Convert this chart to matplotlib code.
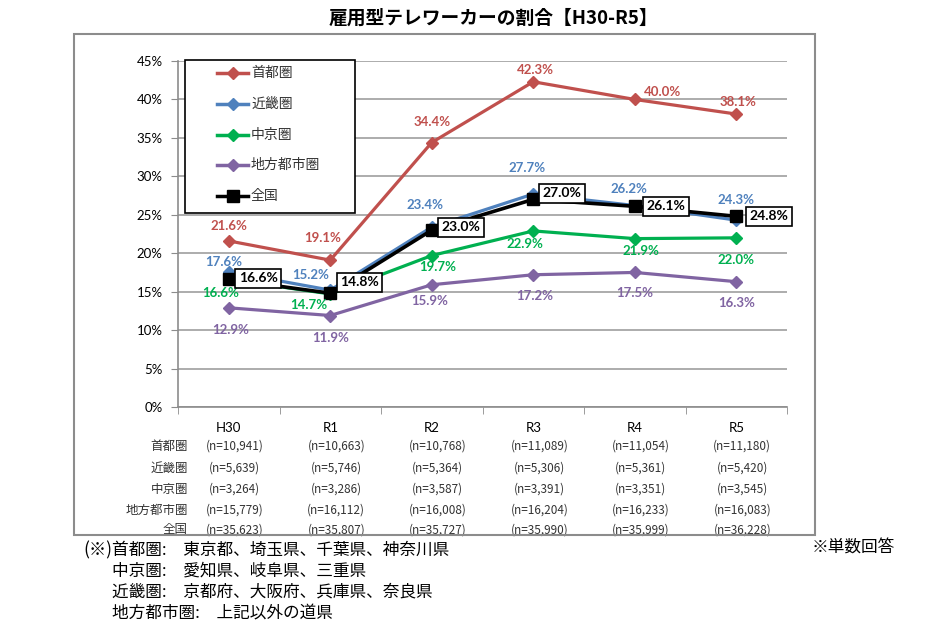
import matplotlib.pyplot as plt
from matplotlib.lines import Line2D
from matplotlib.patches import Rectangle
from matplotlib import transforms

plt.rcParams['font.family'] = ['Noto Sans CJK JP', 'DejaVu Sans']

W, H = 938, 629

# --- data ---
years = ["H30", "R1", "R2", "R3", "R4", "R5"]
shutoken = [21.6, 19.1, 34.4, 42.3, 40.0, 38.1]
kinki = [17.6, 15.2, 23.4, 27.7, 26.2, 24.3]
chukyo = [16.6, 14.7, 19.7, 22.9, 21.9, 22.0]
chiho = [12.9, 11.9, 15.9, 17.2, 17.5, 16.3]
zenkoku = [16.6, 14.8, 23.0, 27.0, 26.1, 24.8]

n_shutoken = ["10,941", "10,663", "10,768", "11,089", "11,054", "11,180"]
n_kinki = ["5,639", "5,746", "5,364", "5,306", "5,361", "5,420"]
n_chukyo = ["3,264", "3,286", "3,587", "3,391", "3,351", "3,545"]
n_chiho = ["15,779", "16,112", "16,008", "16,204", "16,233", "16,083"]
n_zenkoku = ["35,623", "35,807", "35,727", "35,990", "35,999", "36,228"]

names = ["首都圏", "近畿圏", "中京圏", "地方都市圏", "全国"]

# --- styles ---
colors = ["#C0504D", "#4F81BD", "#00B050", "#8064A2", "#000000"]
# label offsets in pixels (dx, dy), y up
offs = {
    "首都圏": [(0, 15), (-8, 22), (0, 21), (2, 12), (28, 7), (2, 12)],
    "近畿圏": [(-5, 10), (-20, 15), (-7, 22), (-6, 26), (-6, 17), (0, 20)],
    "中京圏": [(-8, -14), (-22, -11), (6, -11), (-8, -13), (6, -12), (0, -22)],
    "地方都市圏": [(2, -22), (0, -22), (-2, -16), (1, -21), (0, -21), (0, -21)],
    "全国": [(10, 1), (10, 11), (10, 3), (9, 6), (12, 0), (13, 0)],
}


def fx(px):
    return px / W


def fy(py):
    return 1 - py / H


fig = plt.figure(figsize=(W / 100, H / 100), dpi=100)
fig.add_artist(Rectangle((fx(74), fy(535)), fx(815) - fx(74), fy(34) - fy(535),
                         transform=fig.transFigure, fill=False,
                         ec="#8C8C8C", lw=1.5))
fig.text(fx(493), fy(18), "雇用型テレワーカーの割合【H30-R5】",
         ha="center", va="center", fontsize=13.5, fontweight="bold")

ax = fig.add_axes([fx(178), fy(407), fx(787) - fx(178), fy(61) - fy(407)])
x = list(range(len(years)))
series = [shutoken, kinki, chukyo, chiho, zenkoku]
for name, vals, c in zip(names, series, colors):
    if name == "全国":
        ax.plot(x, vals, color=c, lw=2.6, marker="s", ms=8, zorder=5)
    else:
        ax.plot(x, vals, color=c, lw=2.3, marker="D", ms=6, zorder=3)
    for i, v in enumerate(vals):
        dx, dy = offs[name][i]
        if name == "全国":
            ax.annotate(f"{v:.1f}%", (i, v), xytext=(dx, dy),
                        textcoords="offset pixels", ha="left", va="center",
                        fontsize=10, fontweight="bold", family="Lato",
                        color="black", zorder=7,
                        bbox=dict(boxstyle="square,pad=0.25", fc="white",
                                  ec="black", lw=1.2))
        else:
            ax.annotate(f"{v:.1f}%", (i, v), xytext=(dx, dy),
                        textcoords="offset pixels", ha="center", va="center",
                        fontsize=9.5, fontweight="bold", family="Lato",
                        color=c, zorder=6)

ax.set_xlim(-0.5, 5.5)
ax.set_ylim(0, 45)
ax.set_yticks(range(0, 46, 5))
ax.set_yticklabels([f"{v}%" for v in range(0, 46, 5)], family="Lato", fontsize=9.5)
ax.set_xticks(x)
ax.set_xticklabels(years, family="Lato", fontsize=9.5)
ax.set_xticks([i + 0.5 for i in range(-1, 6)], minor=True)
ax.tick_params(axis="x", which="major", length=0, pad=11)
ax.tick_params(axis="x", which="minor", length=5, color="#8C8C8C")
ax.tick_params(axis="y", length=5, color="#8C8C8C", pad=6)
ax.yaxis.grid(True, color="#A6A6A6", lw=1.3)
ax.set_axisbelow(True)
for s in ["top", "right"]:
    ax.spines[s].set_visible(False)
for s in ["left", "bottom"]:
    ax.spines[s].set_color("#8C8C8C")
    ax.spines[s].set_linewidth(1.2)

# legend box
fig.add_artist(Rectangle((fx(185), fy(213)), fx(355) - fx(185), fy(60) - fy(213),
                         transform=fig.transFigure, fc="white", ec="black",
                         lw=1.2, zorder=8))
for k, (name, c) in enumerate(zip(names, colors)):
    yy = fy(73 + k * 30.8)
    mk = "s" if name == "全国" else "D"
    ms = 8 if name == "全国" else 6
    fig.add_artist(Line2D([fx(217), fx(248)], [yy, yy], color=c, lw=2.5,
                          transform=fig.transFigure, zorder=9))
    fig.add_artist(Line2D([fx(232.5)], [yy], color=c, marker=mk, ms=ms,
                          transform=fig.transFigure, zorder=9))
    fig.text(fx(251), yy, name, ha="left", va="center", fontsize=10,
             color="#333333", zorder=9)

# sample size table
blend = transforms.blended_transform_factory(ax.transData, fig.transFigure)
n_rows = [n_shutoken, n_kinki, n_chukyo, n_chiho, n_zenkoku]
row_y = [446, 468, 489, 510, 530]
for name, ns, yy in zip(names, n_rows, row_y):
    fig.text(fx(188), fy(yy), name, ha="right", va="center", fontsize=9,
             color="#333333")
    for i, n in enumerate(ns):
        ax.text(i + 0.06, fy(yy), f"(n={n})", transform=blend,
                ha="center", va="center", fontsize=8.5, color="#333333",
                clip_on=False)

# footnotes
fig.text(fx(112), fy(550), "(※)", ha="right", va="center", fontsize=12.5)
notes = ["首都圏:　東京都、埼玉県、千葉県、神奈川県",
         "中京圏:　愛知県、岐阜県、三重県",
         "近畿圏:　京都府、大阪府、兵庫県、奈良県",
         "地方都市圏:　上記以外の道県"]
for k, t in enumerate(notes):
    fig.text(fx(112), fy(550 + k * 21), t, ha="left", va="center", fontsize=12)
fig.text(fx(812), fy(548), "※単数回答", ha="left", va="center", fontsize=12)

fig.savefig("out.png", dpi=100)
